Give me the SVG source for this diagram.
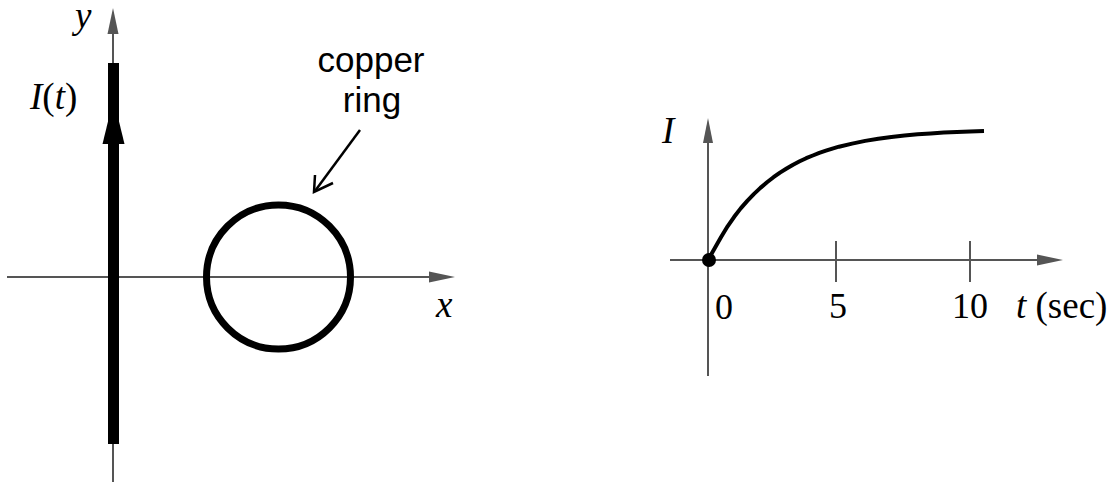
<svg xmlns="http://www.w3.org/2000/svg" width="1111" height="483" viewBox="0 0 1111 483">
<style>
.axis{stroke:#555;stroke-width:2;fill:none}
.ah{fill:#555;stroke:none}
.math{font-family:"Liberation Serif",serif;font-style:italic;font-size:37px;fill:#000}
.num{font-family:"Liberation Serif",serif;font-size:36px;fill:#000}
.sans{font-family:"Liberation Sans",Arial,sans-serif;font-size:35px;fill:#000}
</style>
<rect width="1111" height="483" fill="#fff"/>
<g id="connectors">
<line class="axis" x1="113" y1="30" x2="113" y2="482"/>
<polygon class="ah" points="113,8 118.5,34 107.5,34"/>
<line class="axis" x1="7" y1="277" x2="432" y2="277"/>
<polygon class="ah" points="455,277 429,271.5 429,282.5"/>
<line x1="360" y1="130" x2="315" y2="191" stroke="#000" stroke-width="2.5"/>
<polyline points="315,175 314,192 333,183" fill="none" stroke="#000" stroke-width="2.5"/>
<line class="axis" x1="708" y1="140" x2="708" y2="376"/>
<polygon class="ah" points="708,118 713,143 703,143"/>
<line class="axis" x1="670" y1="260" x2="1040" y2="260"/>
<polygon class="ah" points="1063,260 1037,254.5 1037,265.5"/>
<line class="axis" x1="836" y1="241" x2="836" y2="282"/>
<line class="axis" x1="970" y1="241" x2="970" y2="282"/>
</g>
<g id="wire">
<rect x="108" y="63" width="11" height="381" fill="#000"/>
<polygon points="113.5,99 124.5,144 102.5,144" fill="#000"/>
</g>
<g id="ring">
<circle cx="278.5" cy="277" r="72" fill="none" stroke="#000" stroke-width="7"/>
</g>
<g id="curve">
<polyline points="708,260 714,249.5 721.1,237 727.6,226.3 734.2,216.8 740.7,208.4 747.3,200.9 753.8,194.1 760.4,187.9 767,182.3 773.5,177.2 780,172.6 786.6,168.5 793.1,164.7 799.7,161.3 806.2,158.2 812.8,155.5 819.3,152.9 825.9,150.7 832.4,148.6 839,146.7 852.1,143.6 865.2,140.9 878.3,138.8 891.4,137 904.5,135.5 917.6,134.3 930.7,133.4 943.8,132.6 956.9,131.9 970,131.4 984,131" fill="none" stroke="#000" stroke-width="4" stroke-linejoin="round"/>
<circle cx="709" cy="260" r="7" fill="#000"/>
</g>
<g id="labels">
<text class="math" x="75" y="28">y</text>
<text class="math" x="30" y="109" font-size="39">I<tspan font-style="normal">(</tspan>t<tspan font-style="normal">)</tspan></text>
<text class="math" x="436" y="317">x</text>
<text class="sans" x="371" y="72" text-anchor="middle">copper</text>
<text class="sans" x="372" y="112" text-anchor="middle">ring</text>
<text class="math" x="662" y="143">I</text>
<text class="num" x="724" y="319" text-anchor="middle">0</text>
<text class="num" x="838" y="318" text-anchor="middle">5</text>
<text class="num" x="970" y="318" text-anchor="middle">10</text>
<text class="math" x="1016" y="318">t<tspan font-style="normal"> (sec)</tspan></text>
</g>
</svg>
